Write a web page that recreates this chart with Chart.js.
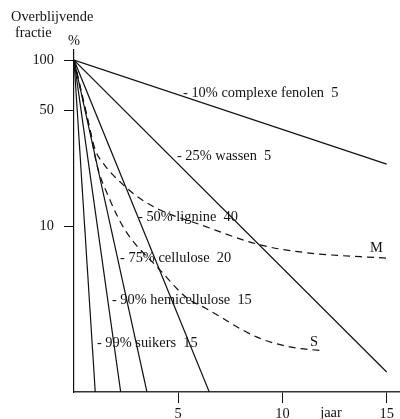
<!DOCTYPE html>
<html>
<head>
<meta charset="utf-8">
<script src="https://cdn.jsdelivr.net/npm/chart.js@4/dist/chart.umd.min.js"></script>
<style>
  html, body { margin: 0; padding: 0; background: #fff; }
  canvas { display: block; }
</style>
</head>
<body>
<canvas id="c" width="400" height="419"></canvas>
<script>
// Components of plant litter: yearly loss (%), share in the litter (%)
const componentNames = ['complexe fenolen', 'wassen', 'lignine', 'cellulose', 'hemicellulose', 'suikers'];
const yearlyLoss = [10, 25, 50, 75, 90, 99];
const litterShare = [5, 5, 40, 20, 15, 15];

// Each component decays along a straight line on the log axis, from 100% at year 0
const startYear = 0;
const startFraction = 100;
const endYear = [15, 15, 6.49, 3.5, 2.24, 1.02];
const endFraction = [23.6, 1.32, 1, 1, 1, 1];

// Total remaining mass of the mixture (M) and of the mixture without the slow fractions (S)
const mYears = [0, 0.77, 1.01, 1.44, 2.3, 3.12, 4.13, 6.05, 8.93, 11.18, 15.02];
const mFraction = [100, 37.9, 29, 23.5, 18, 14.8, 12.5, 10.2, 7.7, 6.9, 6.4];
const sYears = [0, 0.77, 1.1, 1.68, 2.45, 4.13, 5.42, 6.29, 8.78, 10.36, 11.95];
const sFraction = [100, 37.9, 23.3, 14.8, 9.46, 5.43, 3.68, 3.21, 2.14, 1.87, 1.77];

const yTickValues = [100, 50, 10];
const xTickValues = [5, 10, 15];

const FONT = '"Liberation Serif", "Times New Roman", serif';
const FONT_SIZE = 14.4;
const INK = '#111';

const lineSets = componentNames.map((name, i) => ({
  label: name,
  data: [{ x: startYear, y: startFraction }, { x: endYear[i], y: endFraction[i] }],
  borderColor: INK,
  borderWidth: 1.2,
  pointRadius: 0,
  fill: false
}));

const curveSet = (label, xs, ys) => ({
  label,
  data: xs.map((x, k) => ({ x, y: ys[k] })),
  borderColor: INK,
  borderWidth: 1.2,
  borderDash: [7, 5],
  pointRadius: 0,
  cubicInterpolationMode: 'monotone',
  fill: false
});

// Text anchors (data coordinates: year, fraction) for the line captions
const captionAnchors = [
  [5.23, 63.3], [4.94, 26.4], [3.07, 11.3], [2.21, 6.4], [1.82, 3.58], [1.10, 1.97]
];
const curveCaptions = [
  { text: 'M', at: [14.2, 7.4] },
  { text: 'S', at: [11.32, 2.0] }
];

const textPlugin = {
  id: 'captions',
  afterDatasetsDraw(chart) {
    const { ctx, scales } = chart;
    const xs = scales.x, ys = scales.y;
    ctx.save();
    ctx.fillStyle = INK;
    ctx.font = FONT_SIZE + 'px ' + FONT;
    ctx.textBaseline = 'middle';
    ctx.textAlign = 'left';
    componentNames.forEach((name, i) => {
      const [ax, ay] = captionAnchors[i];
      const txt = '- ' + yearlyLoss[i] + '% ' + name + '  ' + litterShare[i];
      ctx.fillText(txt, xs.getPixelForValue(ax), ys.getPixelForValue(ay));
    });
    curveCaptions.forEach(c => {
      ctx.fillText(c.text, xs.getPixelForValue(c.at[0]), ys.getPixelForValue(c.at[1]));
    });
    // axis titles
    ctx.fillText('Overblijvende', 11, 17);
    ctx.fillText('fractie', 15, 33);
    ctx.textAlign = 'center';
    ctx.fillText('%', xs.left, 41);
    ctx.textBaseline = 'alphabetic';
    ctx.fillText('jaar', xs.getPixelForValue(12.33), 417);
    ctx.restore();
  }
};

new Chart(document.getElementById('c'), {
  type: 'line',
  data: {
    datasets: [
      ...lineSets,
      curveSet('M', mYears, mFraction),
      curveSet('S', sYears, sFraction)
    ]
  },
  options: {
    responsive: false,
    animation: false,
    devicePixelRatio: 1,
    layout: { padding: { top: 50, left: 0, right: 0, bottom: 0 } },
    plugins: {
      legend: { display: false },
      tooltip: { enabled: false },
      title: { display: false }
    },
    scales: {
      x: {
        type: 'linear',
        min: 0,
        max: 15.64,
        afterBuildTicks: s => { s.ticks = xTickValues.map(v => ({ value: v })); },
        afterFit: s => { s.height = 27; },
        ticks: {
          color: INK,
          font: { family: FONT, size: FONT_SIZE },
          padding: 3,
          maxRotation: 0,
          callback: v => String(v)
        },
        grid: { drawOnChartArea: false, drawTicks: true, tickLength: 11, color: INK, lineWidth: 1 },
        border: { display: true, color: '#333', width: 1.4 }
      },
      y: {
        type: 'logarithmic',
        min: 1,
        max: 115,
        afterBuildTicks: s => { s.ticks = yTickValues.map(v => ({ value: v })); },
        afterFit: s => { s.width = 74; },
        ticks: {
          color: INK,
          font: { family: FONT, size: FONT_SIZE },
          padding: 10,
          callback: v => String(v)
        },
        grid: { drawOnChartArea: false, drawTicks: true, tickLength: 10, color: INK, lineWidth: 1 },
        border: { display: true, color: INK, width: 1.2 }
      }
    }
  },
  plugins: [textPlugin]
});
</script>
</body>
</html>
